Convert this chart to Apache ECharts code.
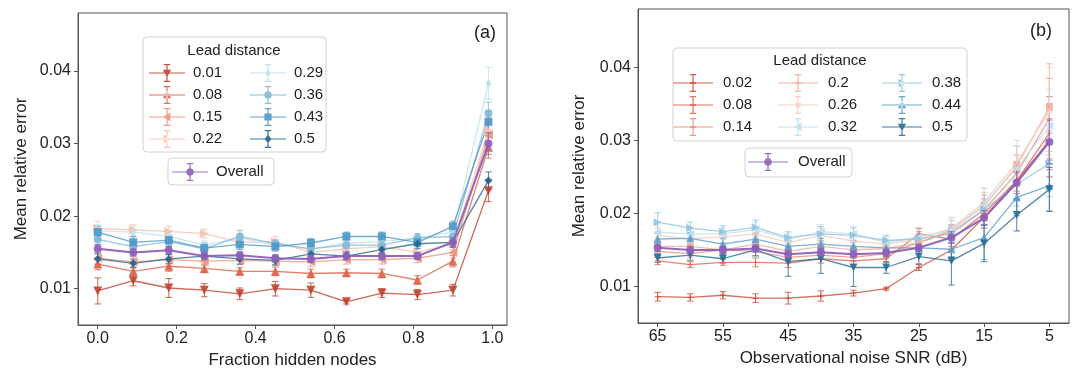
<!DOCTYPE html>
<html>
<head>
<meta charset="utf-8">
<script src="https://cdn.jsdelivr.net/npm/echarts@6/dist/echarts.min.js"></script>
<style>html,body{margin:0;padding:0;background:#fff}#c{width:1080px;height:380px}</style>
</head>
<body>
<div id="c"></div>
<script>
// ---------- Panel (a): fraction hidden nodes ----------
const fracX = [0, 0.09, 0.18, 0.27, 0.36, 0.45, 0.54, 0.63, 0.72, 0.81, 0.9, 0.99];
const fracTicks = [0, 0.2, 0.4, 0.6, 0.8, 1.0];
const aNames = ['0.01', '0.08', '0.15', '0.22', '0.29', '0.36', '0.43', '0.5'];
const a001 = [0.0097, 0.0111, 0.0101, 0.0098, 0.0093, 0.0100, 0.0098, 0.0082, 0.0094, 0.0092, 0.0098, 0.0235];
const a008 = [0.0134, 0.0124, 0.0131, 0.0128, 0.0124, 0.0124, 0.0121, 0.0122, 0.0121, 0.0112, 0.0138, 0.0295];
const a015 = [0.0142, 0.0137, 0.0140, 0.0138, 0.0139, 0.0138, 0.0137, 0.0140, 0.0140, 0.0142, 0.0150, 0.0312];
const a022 = [0.0183, 0.0181, 0.0179, 0.0176, 0.0164, 0.0165, 0.0150, 0.0155, 0.0158, 0.0150, 0.0162, 0.0318];
const a029 = [0.0180, 0.0178, 0.0172, 0.0160, 0.0170, 0.0160, 0.0155, 0.0163, 0.0165, 0.0170, 0.0178, 0.0383];
const a036 = [0.0168, 0.0158, 0.0165, 0.0155, 0.0172, 0.0162, 0.0155, 0.0160, 0.0160, 0.0170, 0.0172, 0.0342];
const a043 = [0.0178, 0.0164, 0.0167, 0.0156, 0.0161, 0.0158, 0.0163, 0.0172, 0.0172, 0.0164, 0.0186, 0.0330];
const a050 = [0.0141, 0.0135, 0.0141, 0.0145, 0.0141, 0.0139, 0.0148, 0.0145, 0.0154, 0.0162, 0.0164, 0.0249];
const aAll = [0.0155, 0.0150, 0.0153, 0.0145, 0.0146, 0.0142, 0.0141, 0.0145, 0.0145, 0.0145, 0.0164, 0.0300];
const a001e = [0.0018, 0.0007, 0.0013, 0.0009, 0.0008, 0.0010, 0.0010, 0.0003, 0.0006, 0.0007, 0.0008, 0.0015];
const a008e = [0.0008, 0.0006, 0.0007, 0.0006, 0.0005, 0.0006, 0.0006, 0.0005, 0.0006, 0.0006, 0.0008, 0.0015];
const a015e = [0.0009, 0.0007, 0.0007, 0.0006, 0.0006, 0.0006, 0.0006, 0.0006, 0.0006, 0.0006, 0.0008, 0.0018];
const a022e = [0.0010, 0.0007, 0.0007, 0.0006, 0.0006, 0.0007, 0.0006, 0.0006, 0.0006, 0.0006, 0.0008, 0.0018];
const a029e = [0.0008, 0.0007, 0.0007, 0.0006, 0.0006, 0.0006, 0.0006, 0.0006, 0.0006, 0.0006, 0.0007, 0.0022];
const a036e = [0.0008, 0.0007, 0.0007, 0.0006, 0.0008, 0.0006, 0.0006, 0.0008, 0.0006, 0.0006, 0.0007, 0.0015];
const a043e = [0.0008, 0.0008, 0.0007, 0.0007, 0.0007, 0.0006, 0.0006, 0.0006, 0.0006, 0.0006, 0.0007, 0.0015];
const a050e = [0.0007, 0.0006, 0.0006, 0.0006, 0.0007, 0.0006, 0.0007, 0.0006, 0.0006, 0.0007, 0.0007, 0.0012];
const aAlle = [0.0006, 0.0005, 0.0005, 0.0005, 0.0005, 0.0005, 0.0005, 0.0005, 0.0005, 0.0005, 0.0006, 0.0015];

// ---------- Panel (b): observational noise SNR ----------
const snrX = [65, 60, 55, 50, 45, 40, 35, 30, 25, 20, 15, 10, 5];
const snrTicks = [65, 55, 45, 35, 25, 15, 5];
const bNames = ['0.02', '0.08', '0.14', '0.2', '0.26', '0.32', '0.38', '0.44', '0.5'];
const b002 = [0.0086, 0.0085, 0.0088, 0.0084, 0.0084, 0.0087, 0.0091, 0.0097, 0.0126, 0.0150, 0.0195, 0.0245, 0.0300];
const b008 = [0.0135, 0.0130, 0.0133, 0.0133, 0.0132, 0.0138, 0.0135, 0.0138, 0.0172, 0.0165, 0.0200, 0.0245, 0.0310];
const b014 = [0.0148, 0.0145, 0.0150, 0.0148, 0.0140, 0.0143, 0.0140, 0.0145, 0.0160, 0.0175, 0.0205, 0.0255, 0.0330];
const b020 = [0.0155, 0.0155, 0.0150, 0.0158, 0.0148, 0.0155, 0.0150, 0.0152, 0.0160, 0.0178, 0.0210, 0.0265, 0.0345];
const b026 = [0.0170, 0.0165, 0.0168, 0.0172, 0.0160, 0.0170, 0.0162, 0.0158, 0.0165, 0.0180, 0.0215, 0.0270, 0.0340];
const b032 = [0.0174, 0.0172, 0.0172, 0.0178, 0.0165, 0.0175, 0.0172, 0.0160, 0.0168, 0.0178, 0.0212, 0.0262, 0.0320];
const b038 = [0.0188, 0.0180, 0.0175, 0.0181, 0.0167, 0.0172, 0.0170, 0.0163, 0.0165, 0.0172, 0.0205, 0.0240, 0.0268];
const b044 = [0.0165, 0.0166, 0.0158, 0.0165, 0.0155, 0.0158, 0.0155, 0.0153, 0.0153, 0.0151, 0.0167, 0.0222, 0.0238];
const b050 = [0.0139, 0.0143, 0.0138, 0.0150, 0.0134, 0.0138, 0.0126, 0.0126, 0.0141, 0.0135, 0.0159, 0.0198, 0.0233];
const bAll = [0.0153, 0.0150, 0.0150, 0.0152, 0.0144, 0.0147, 0.0144, 0.0146, 0.0153, 0.0167, 0.0194, 0.0242, 0.0298];
const b002e = [0.0006, 0.0005, 0.0005, 0.0006, 0.0008, 0.0007, 0.0004, 0.0002, 0.0004, 0.0010, 0.0015, 0.0025, 0.0050];
const b008e = [0.0005, 0.0004, 0.0004, 0.0006, 0.0006, 0.0006, 0.0005, 0.0005, 0.0008, 0.0010, 0.0015, 0.0025, 0.0050];
const b014e = [0.0006, 0.0005, 0.0005, 0.0006, 0.0006, 0.0006, 0.0005, 0.0005, 0.0008, 0.0010, 0.0015, 0.0025, 0.0055];
const b020e = [0.0008, 0.0007, 0.0010, 0.0008, 0.0008, 0.0008, 0.0006, 0.0006, 0.0010, 0.0012, 0.0018, 0.0028, 0.0060];
const b026e = [0.0010, 0.0008, 0.0008, 0.0010, 0.0008, 0.0010, 0.0008, 0.0008, 0.0010, 0.0015, 0.0020, 0.0030, 0.0060];
const b032e = [0.0010, 0.0008, 0.0008, 0.0010, 0.0008, 0.0010, 0.0010, 0.0008, 0.0010, 0.0015, 0.0022, 0.0030, 0.0050];
const b038e = [0.0013, 0.0008, 0.0008, 0.0010, 0.0008, 0.0010, 0.0010, 0.0007, 0.0010, 0.0012, 0.0020, 0.0030, 0.0045];
const b044e = [0.0008, 0.0008, 0.0008, 0.0008, 0.0008, 0.0008, 0.0008, 0.0007, 0.0008, 0.0010, 0.0030, 0.0025, 0.0035];
const b050e = [0.0006, 0.0007, 0.0006, 0.0008, 0.0020, 0.0020, 0.0026, 0.0008, 0.0010, 0.0033, 0.0025, 0.0022, 0.0030];
const bAlle = [0.0005, 0.0005, 0.0005, 0.0005, 0.0005, 0.0005, 0.0005, 0.0005, 0.0005, 0.0008, 0.0010, 0.0015, 0.0030];

const yTicks = [0.01, 0.02, 0.03, 0.04];

// ---------- styling ----------
const FONT = '"Liberation Sans", Arial, Helvetica, sans-serif';
const AX = '#555555';
const aColors = ['#c0432f', '#dd6249', '#e99680', '#f3c2b1', '#bfe0ec', '#7fb8d8', '#4c97c8', '#22638f'];
const bColors = ['#cc4c3c', '#e06552', '#ec8f7a', '#f2ad9b', '#f6cbbd', '#bfe0ec', '#8fc4df', '#5a9ecb', '#2b6b96'];
const PURPLE = '#8c5fb8';

// marker shapes: [echarts symbol, rotate, size]
const aMarks = [['triangle', 180, 9], ['triangle', 0, 9], ['triangle', 90, 9], ['triangle', -90, 9],
                ['diamond', 0, [6, 9]], ['circle', 0, 8], ['rect', 0, 8], ['diamond', 0, 8]];
const PLUS = 'path://M0,4.2L10,4.2L10,5.8L0,5.8Z M4.2,0L5.8,0L5.8,10L4.2,10Z';
const VBAR = 'path://M4.2,0L5.8,0L5.8,10L4.2,10Z';
const XMARK = 'path://M0,1.1L1.1,0L10,8.9L8.9,10Z M8.9,0L10,1.1L1.1,10L0,8.9Z';
const bMarks = [[PLUS, 0, 6], [PLUS, 0, 6], [PLUS, 0, 6], [VBAR, 0, 7], [XMARK, 0, 6],
                ['triangle', 90, 8], ['triangle', -90, 8], ['triangle', 0, 8], ['triangle', 180, 8]];

// legend icon path: errorbar (horizontal line, vertical bar with caps) + marker
function markerPath(kind, cx, cy) {
  const s = 4.2;
  switch (kind) {
    case 'v': return `M${cx - s},${cy - s * 0.8}L${cx + s},${cy - s * 0.8}L${cx},${cy + s}Z`;
    case '^': return `M${cx - s},${cy + s * 0.8}L${cx + s},${cy + s * 0.8}L${cx},${cy - s}Z`;
    case '<': return `M${cx + s * 0.8},${cy - s}L${cx + s * 0.8},${cy + s}L${cx - s},${cy}Z`;
    case '>': return `M${cx - s * 0.8},${cy - s}L${cx - s * 0.8},${cy + s}L${cx + s},${cy}Z`;
    case 'd': return `M${cx},${cy - s}L${cx + s * 0.6},${cy}L${cx},${cy + s}L${cx - s * 0.6},${cy}Z`;
    case 'D': return `M${cx},${cy - s}L${cx + s * 0.85},${cy}L${cx},${cy + s}L${cx - s * 0.85},${cy}Z`;
    case 's': return `M${cx - 3.6},${cy - 3.6}L${cx + 3.6},${cy - 3.6}L${cx + 3.6},${cy + 3.6}L${cx - 3.6},${cy + 3.6}Z`;
    case 'o': { let p = ''; const r = 3.8; for (let i = 0; i < 16; i++) { const a = i / 16 * Math.PI * 2; p += (i ? 'L' : 'M') + (cx + r * Math.cos(a)).toFixed(2) + ',' + (cy + r * Math.sin(a)).toFixed(2); } return p + 'Z'; }
    case '+': return `M${cx - 3},${cy - 0.9}L${cx + 3},${cy - 0.9}L${cx + 3},${cy + 0.9}L${cx - 3},${cy + 0.9}Z`;
    case 'x': return `M${cx - 3},${cy - 2.2}L${cx - 2.2},${cy - 3}L${cx + 3},${cy + 2.2}L${cx + 2.2},${cy + 3}Z M${cx + 2.2},${cy - 3}L${cx + 3},${cy - 2.2}L${cx - 2.2},${cy + 3}L${cx - 3},${cy + 2.2}Z`;
    default: return '';
  }
}
function legendIcon(W, kind) {
  const H = 18, cx = W / 2, cy = H / 2;
  let p = `M0,${cy - 0.6}L${W},${cy - 0.6}L${W},${cy + 0.6}L0,${cy + 0.6}Z`;
  p += ` M${cx - 0.6},0L${cx + 0.6},0L${cx + 0.6},${H}L${cx - 0.6},${H}Z`;
  p += ` M${cx - 3.2},0L${cx + 3.2},0L${cx + 3.2},1.2L${cx - 3.2},1.2Z`;
  p += ` M${cx - 3.2},${H - 1.2}L${cx + 3.2},${H - 1.2}L${cx + 3.2},${H}L${cx - 3.2},${H}Z`;
  p += ' ' + markerPath(kind, cx, cy);
  return 'path://' + p;
}
const aKinds = ['v', '^', '<', '>', 'd', 'o', 's', 'D'];
const bKinds = ['+', '+', '+', '+', 'x', '<', '>', '^', 'v'];

function errRender(params, api) {
  const x = api.value(0), lo = api.value(1), hi = api.value(2);
  const p1 = api.coord([x, lo]), p2 = api.coord([x, hi]);
  const st = { stroke: api.visual('color'), lineWidth: 1.1, opacity: 0.75 };
  const c = 3.2;
  return { type: 'group', children: [
    { type: 'line', shape: { x1: p1[0], y1: p1[1], x2: p2[0], y2: p2[1] }, style: st },
    { type: 'line', shape: { x1: p1[0] - c, y1: p1[1], x2: p1[0] + c, y2: p1[1] }, style: st },
    { type: 'line', shape: { x1: p2[0] - c, y1: p2[1], x2: p2[0] + c, y2: p2[1] }, style: st }
  ] };
}

const series = [];
function addSeries(name, xs, ys, es, color, mark, axisIdx, isAll) {
  series.push({
    name: name + '_err', type: 'custom', xAxisIndex: axisIdx, yAxisIndex: axisIdx,
    renderItem: errRender, itemStyle: { color: color }, silent: true, z: isAll ? 5 : 2,
    data: xs.map((x, i) => [x, ys[i] - es[i], ys[i] + es[i]])
  });
  series.push({
    name: name, type: 'line', xAxisIndex: axisIdx, yAxisIndex: axisIdx,
    data: xs.map((x, i) => [x, ys[i]]),
    symbol: mark[0], symbolRotate: mark[1], symbolSize: mark[2], showSymbol: true,
    itemStyle: { color: color, opacity: 0.9 },
    lineStyle: { color: color, width: isAll ? 2 : 1.3, opacity: isAll ? 0.95 : 0.8 },
    emphasis: { disabled: true }, animation: false, z: isAll ? 6 : 3
  });
}
const aY = [a001, a008, a015, a022, a029, a036, a043, a050];
const aE = [a001e, a008e, a015e, a022e, a029e, a036e, a043e, a050e];
aNames.forEach((n, i) => addSeries('a' + n, fracX, aY[i], aE[i], aColors[i], aMarks[i], 0, false));
addSeries('aOverall', fracX, aAll, aAlle, PURPLE, ['circle', 0, 8], 0, true);
const bY = [b002, b008, b014, b020, b026, b032, b038, b044, b050];
const bE = [b002e, b008e, b014e, b020e, b026e, b032e, b038e, b044e, b050e];
bNames.forEach((n, i) => addSeries('b' + n, snrX, bY[i], bE[i], bColors[i], bMarks[i], 1, false));
addSeries('bOverall', snrX, bAll, bAlle, PURPLE, ['circle', 0, 8], 1, true);

function legendCol(names, prefix, kinds, W, left, top, gap, padL) {
  return {
    orient: 'vertical', left: left, top: top, padding: 0, itemGap: gap,
    itemWidth: W, itemHeight: 18, selectedMode: false,
    textStyle: { fontFamily: FONT, fontSize: 15, color: '#222', lineHeight: 18, padding: [0, 0, 0, padL] },
    formatter: n => n.slice(1),
    data: names.map((n, i) => ({ name: prefix + n, icon: legendIcon(W, kinds[i]) }))
  };
}

const yAxisBase = {
  type: 'value', min: 0.005, max: 0.048,
  name: 'Mean relative error', nameLocation: 'middle',
  nameTextStyle: { fontFamily: FONT, fontSize: 17, color: '#222' },
  axisLine: { show: true, onZero: false, lineStyle: { color: AX } },
  axisTick: { show: true, length: 4, lineStyle: { color: AX }, customValues: yTicks },
  axisLabel: { fontFamily: FONT, fontSize: 16, color: '#222', margin: 7, customValues: yTicks, formatter: v => v.toFixed(2) },
  splitLine: { show: false }
};

const option = {
  animation: false,
  backgroundColor: '#fff',
  grid: [
    { left: 78, top: 13, right: 573, bottom: 55, show: true, borderColor: AX, borderWidth: 1 },
    { left: 638, top: 9, right: 11, bottom: 57, show: true, borderColor: AX, borderWidth: 1 }
  ],
  xAxis: [
    { type: 'value', gridIndex: 0, min: -0.05, max: 1.037,
      name: 'Fraction hidden nodes', nameLocation: 'middle', nameGap: 27,
      nameTextStyle: { fontFamily: FONT, fontSize: 17, color: '#222' },
      axisLine: { show: true, onZero: false, lineStyle: { color: AX } },
      axisTick: { show: true, length: 4, lineStyle: { color: AX }, customValues: fracTicks },
      axisLabel: { fontFamily: FONT, fontSize: 16, color: '#222', margin: 6, customValues: fracTicks, formatter: v => v.toFixed(1) },
      splitLine: { show: false } },
    { type: 'value', gridIndex: 1, min: 2, max: 68, inverse: true,
      name: 'Observational noise SNR (dB)', nameLocation: 'middle', nameGap: 27,
      nameTextStyle: { fontFamily: FONT, fontSize: 17, color: '#222' },
      axisLine: { show: true, onZero: false, lineStyle: { color: AX } },
      axisTick: { show: true, length: 4, lineStyle: { color: AX }, customValues: snrTicks },
      axisLabel: { fontFamily: FONT, fontSize: 16, color: '#222', margin: 6, customValues: snrTicks, formatter: v => String(v) },
      splitLine: { show: false } }
  ],
  yAxis: [
    Object.assign({}, yAxisBase, { gridIndex: 0, nameGap: 48 }),
    Object.assign({}, yAxisBase, { gridIndex: 1, nameGap: 50 })
  ],
  legend: [
    legendCol(aNames.slice(0, 4), 'a', aKinds.slice(0, 4), 36, 149, 64, 4, 3),
    legendCol(aNames.slice(4), 'a', aKinds.slice(4), 36, 250, 64, 4, 3),
    legendCol(['Overall'], 'a', ['o'], 36, 172, 163, 4, 3),
    legendCol(bNames.slice(0, 3), 'b', bKinds.slice(0, 3), 40, 673, 74, 4, 5),
    legendCol(bNames.slice(3, 6), 'b', bKinds.slice(3, 6), 40, 778, 74, 4, 5),
    legendCol(bNames.slice(6), 'b', bKinds.slice(6), 40, 882, 74, 4, 5),
    legendCol(['Overall'], 'b', ['o'], 40, 748, 153, 4, 5)
  ],
  graphic: [
    { type: 'rect', z: 3, shape: { x: 143, y: 37, width: 183, height: 115, r: 4 },
      style: { fill: 'rgba(255,255,255,0.85)', stroke: '#d2d2d2', lineWidth: 1 } },
    { type: 'rect', z: 3, shape: { x: 168, y: 158, width: 106, height: 27, r: 4 },
      style: { fill: 'rgba(255,255,255,0.85)', stroke: '#d2d2d2', lineWidth: 1 } },
    { type: 'text', z: 4, x: 234, y: 51, style: { text: 'Lead distance', fontFamily: FONT, fontSize: 15, fill: '#222', align: 'center', verticalAlign: 'middle' } },
    { type: 'rect', z: 3, shape: { x: 673, y: 48, width: 294, height: 93, r: 4 },
      style: { fill: 'rgba(255,255,255,0.85)', stroke: '#d2d2d2', lineWidth: 1 } },
    { type: 'rect', z: 3, shape: { x: 745, y: 148, width: 107, height: 29, r: 4 },
      style: { fill: 'rgba(255,255,255,0.85)', stroke: '#d2d2d2', lineWidth: 1 } },
    { type: 'text', z: 4, x: 820, y: 61, style: { text: 'Lead distance', fontFamily: FONT, fontSize: 15, fill: '#222', align: 'center', verticalAlign: 'middle' } },
    { type: 'text', z: 4, x: 485, y: 33, style: { text: '(a)', fontFamily: FONT, fontSize: 18, fill: '#222', align: 'center', verticalAlign: 'middle' } },
    { type: 'text', z: 4, x: 1041, y: 31, style: { text: '(b)', fontFamily: FONT, fontSize: 18, fill: '#222', align: 'center', verticalAlign: 'middle' } }
  ],
  series: series
};

const chart = echarts.init(document.getElementById('c'), null, { renderer: 'canvas' });
chart.setOption(option);
</script>
</body>
</html>
